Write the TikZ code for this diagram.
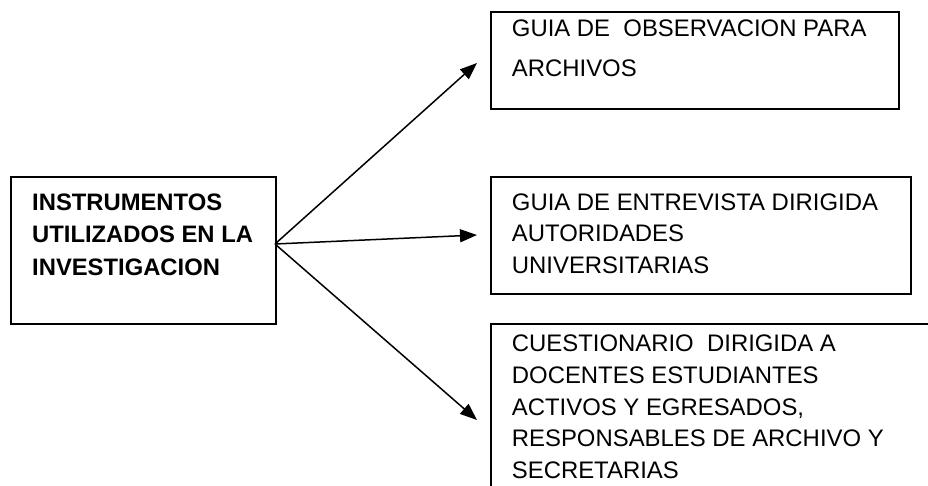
\documentclass[tikz,border=0pt]{standalone}
\usepackage{fontspec}
\setmainfont{Liberation Sans}
\usetikzlibrary{arrows.meta}
\begin{document}
\begin{tikzpicture}[x=1pt,y=-1pt,
  box/.style={draw=black, line width=1.6pt, rectangle, inner sep=0pt, anchor=north west},
  txt/.style={anchor=north west, inner sep=0pt, align=left, font=\fontsize{23.9}{31.6}\selectfont},
  btxt/.style={txt, font=\fontsize{23.8}{32.7}\selectfont\bfseries},
  arr/.style={line width=1.5pt, -{Triangle[length=17pt,width=13pt]}}]
\clip (0,0) rectangle (928,486);
\fill[white] (0,0) rectangle (928,486);
% boxes
\node[box, minimum width=265pt, minimum height=147pt] (lbox) at (10,176) {};
\node[box, minimum width=408pt, minimum height=97pt] (b1) at (490,11) {};
\node[box, minimum width=420pt, minimum height=117pt] (b2) at (490,176) {};
\node[box, minimum width=460pt, minimum height=200pt] (b3) at (490,323) {};
% texts
\node[btxt] (lt) at (32,193.3) {INSTRUMENTOS\\UTILIZADOS EN LA\\INVESTIGACION};
\node[txt, font=\fontsize{23.9}{39.3}\selectfont] (t1) at (511.7,20) {GUIA DE\ \ OBSERVACION PARA\\ARCHIVOS};
\node[txt] (t2) at (511.7,193.3) {GUIA DE ENTREVISTA DIRIGIDA\\AUTORIDADES\\UNIVERSITARIAS};
\node[txt] (t3) at (511.7,335) {CUESTIONARIO\ \ DIRIGIDA A\\DOCENTES ESTUDIANTES\\ACTIVOS Y EGRESADOS,\\RESPONSABLES DE ARCHIVO Y\\SECRETARIAS};
% connectors
\coordinate (o) at (275,244);
\coordinate (p1) at (477,63);
\coordinate (p2) at (477,235);
\coordinate (p3) at (477,420);
\draw[arr] (o) -- (p1);
\draw[arr] (o) -- (p2);
\draw[arr] (o) -- (p3);
\end{tikzpicture}
\end{document}
